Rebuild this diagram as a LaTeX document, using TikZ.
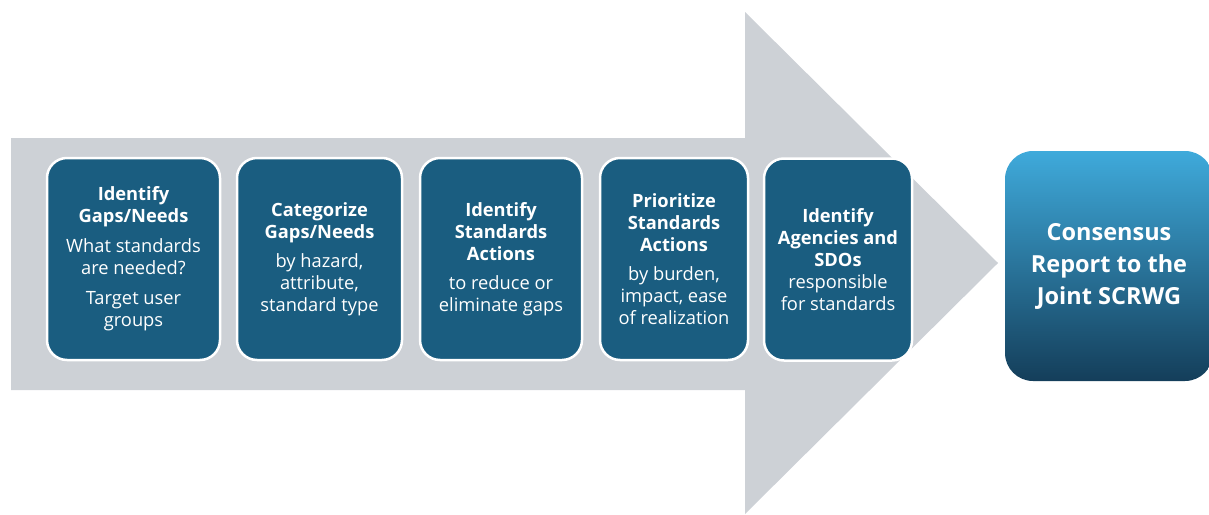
\documentclass[tikz,border=0pt]{standalone}
\usepackage{fontspec}
\setmainfont{Open Sans}
\definecolor{flowgrey}{HTML}{CDD1D6}
\definecolor{stepblue}{HTML}{1A5D80}
\definecolor{reporttop}{HTML}{3FAADB}
\definecolor{reportbottom}{HTML}{143E5A}
\begin{document}
\begin{tikzpicture}[x=1pt,y=-1pt,
  stepbox/.style={rectangle, rounded corners=20pt, fill=stepblue, draw=white,
    line width=2.5pt, text=white, align=center, inner sep=0pt,
    minimum height=202pt, font=\fontsize{18.3}{22}\selectfont},
  reportbox/.style={rectangle, rounded corners=28pt, top color=reporttop,
    bottom color=reportbottom, draw=none, text=white, align=center,
    font=\bfseries\fontsize{23.5}{32}\selectfont}]
  \useasboundingbox (0,0) rectangle (1209,514);
  \clip (0,0) rectangle (1209,514);
  % the big process arrow
  \fill[flowgrey] (11,138) -- (745,138) -- (745,12) -- (998,263)
    -- (745,514) -- (745,390) -- (11,390) -- cycle;
  % process steps
  \node[stepbox, minimum width=173pt] (s1) at (133.5,259)
    {\textbf{Identify}\\\textbf{Gaps/Needs}\\[8pt]What standards\\are needed?\\[8pt]Target user\\groups};
  \node[stepbox, minimum width=165pt] (s2) at (319.5,259)
    {\textbf{Categorize}\\\textbf{Gaps/Needs}\\[7pt]by hazard,\\attribute,\\standard type};
  \node[stepbox, minimum width=162pt] (s3) at (501,259)
    {\textbf{Identify}\\\textbf{Standards}\\\textbf{Actions}\\[7pt]to reduce or\\eliminate gaps};
  \node[stepbox, minimum width=148pt] (s4) at (674,259)
    {\textbf{Prioritize}\\\textbf{Standards}\\\textbf{Actions}\\[7pt]by burden,\\impact, ease\\of realization};
  \node[stepbox, minimum width=148pt] (s5) at (838,259.5)
    {\textbf{Identify}\\\textbf{Agencies and}\\\textbf{SDOs}\\responsible\\for standards};
  % outcome
  \node[reportbox, minimum width=208pt, minimum height=230pt] (r) at (1109,266)
    {Consensus\\Report to the\\Joint SCRWG};
\end{tikzpicture}
\end{document}
